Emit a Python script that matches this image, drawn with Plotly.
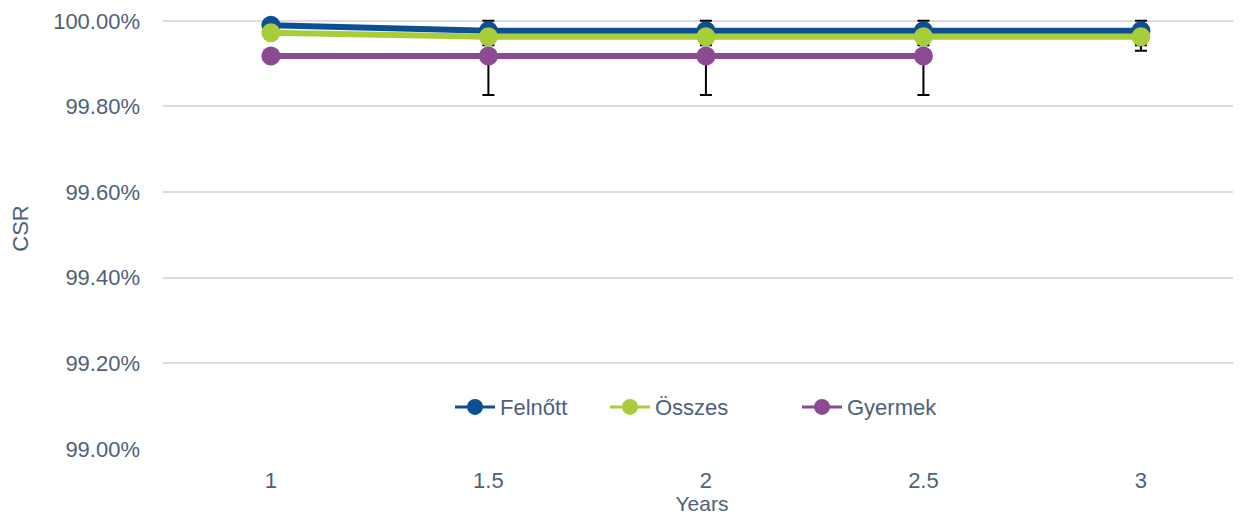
import plotly.graph_objects as go

years = [1, 1.5, 2, 2.5, 3]
felnott = [0.99990, 0.99977, 0.99977, 0.99977, 0.99977]
felnott_plus = [0, 0.00023, 0.00023, 0.00023, 0.00023]
felnott_minus = [0, 0.00034, 0.00034, 0.00034, 0.00034]
osszes = [0.99972, 0.99963, 0.99963, 0.99963, 0.99963]
osszes_plus = [0, 0, 0, 0, 0]
osszes_minus = [0, 0, 0, 0, 0.00033]
gyermek_years = [1, 1.5, 2, 2.5]
gyermek = [0.99918, 0.99918, 0.99918, 0.99918]
gyermek_plus = [0, 0, 0, 0]
gyermek_minus = [0, 0.00091, 0.00091, 0.00091]

BLUE = "#0d4f93"
GREEN = "#a8cd3a"
PURPLE = "#8a4b90"
TXT = "#4d6277"
FONT = "Liberation Sans, Arial, sans-serif"

fig = go.Figure()

def add(name, x, y, plus, minus, color, legend):
    fig.add_trace(go.Scatter(
        x=x, y=y, name=name, mode="lines+markers",
        line=dict(color=color, width=6),
        marker=dict(color=color, size=19),
        error_y=dict(type="data", symmetric=False, array=plus, arrayminus=minus,
                     color="black", thickness=2, width=6),
        showlegend=False,
    ))
    # legend-only entry with thinner line
    fig.add_trace(go.Scatter(
        x=[None], y=[None], name=name, mode="lines+markers",
        line=dict(color=color, width=3),
        marker=dict(color=color, size=16),
        legend=legend, showlegend=True,
    ))

add("Felnőtt", years, felnott, felnott_plus, felnott_minus, BLUE, "legend")
add("Összes", years, osszes, osszes_plus, osszes_minus, GREEN, "legend2")
add("Gyermek", gyermek_years, gyermek, gyermek_plus, gyermek_minus, PURPLE, "legend3")

W, H = 1233, 507
L = 155
leg = dict(orientation="h", yanchor="middle", xanchor="left", y=0.095,
           font=dict(family=FONT, size=22, color=TXT), bgcolor="rgba(0,0,0,0)",
           itemwidth=40)

fig.update_layout(
    width=W, height=H,
    showlegend=True,
    margin=dict(l=L, r=0, t=0, b=66),
    plot_bgcolor="white", paper_bgcolor="white",
    font=dict(family=FONT, color=TXT, size=22),
    legend=dict(leg, x=(442 - L) / (W - L)),
    legend2=dict(leg, x=(597 - L) / (W - L)),
    legend3=dict(leg, x=(789 - L) / (W - L)),
    xaxis=dict(range=[0.752, 3.23], tickvals=years, ticktext=["1", "1.5", "2", "2.5", "3"],
               showgrid=False, zeroline=False, showline=False,
               tickfont=dict(size=22, color=TXT), ticks="", ticklabelstandoff=16,
               title=dict(text="Years", font=dict(size=21, color=TXT), standoff=8)),
    yaxis=dict(range=[0.99, 1.0003],
               tickformat=".2%",
               tickvals=[0.99, 0.992, 0.994, 0.996, 0.998, 1.0],
               gridcolor="#dcdcdc", gridwidth=2, zeroline=False, showline=False,
               tickfont=dict(size=22, color=TXT), ticks="", ticklabelstandoff=22,
               title=dict(text="CSR", font=dict(size=22, color=TXT), standoff=18)),
)

fig.write_html("out.html")
